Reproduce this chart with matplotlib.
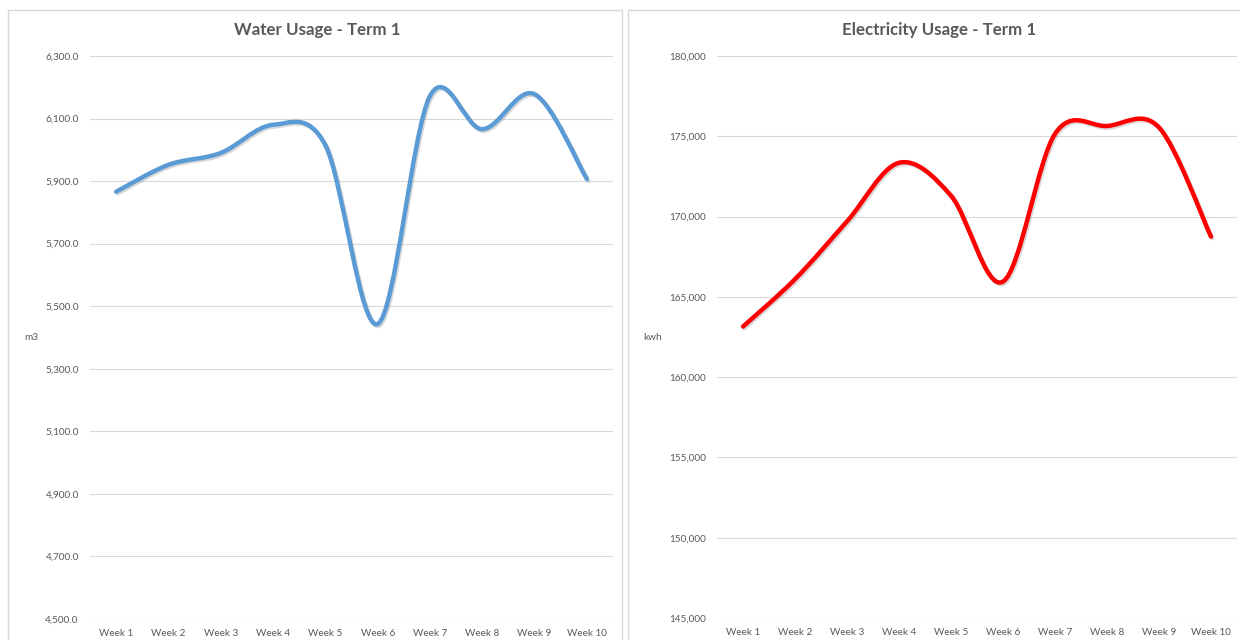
import matplotlib
matplotlib.use("Agg")
import matplotlib.pyplot as plt
import matplotlib.patheffects as pe
from matplotlib.path import Path
from matplotlib.patches import PathPatch, Rectangle
from matplotlib.ticker import FuncFormatter

weeks = ["Week 1", "Week 2", "Week 3", "Week 4", "Week 5",
         "Week 6", "Week 7", "Week 8", "Week 9", "Week 10"]
water = [5866, 5952, 5990, 6080, 6015, 5443, 6172, 6066, 6178, 5907]
electricity = [163150, 166100, 169700, 173350, 171300,
               165950, 175150, 175640, 175550, 168750]

water_ticks = [4500, 4700, 4900, 5100, 5300, 5500, 5700, 5900, 6100, 6300]
elec_ticks = [145000, 150000, 155000, 160000, 165000, 170000, 175000, 180000]

plt.rcParams['font.family'] = ['Lato', 'DejaVu Sans']
text_col = '#595959'
grid_col = '#D9D9D9'


def smooth_path(xs, ys):
    # Excel-style smoothed line: cubic bezier through every point
    verts = [(xs[0], ys[0])]
    codes = [Path.MOVETO]
    n = len(xs)
    for i in range(n - 1):
        x0, y0 = (xs[i - 1], ys[i - 1]) if i > 0 else (xs[i], ys[i])
        x3, y3 = (xs[i + 2], ys[i + 2]) if i + 2 < n else (xs[i + 1], ys[i + 1])
        c1 = (xs[i] + (xs[i + 1] - x0) / 6, ys[i] + (ys[i + 1] - y0) / 6)
        c2 = (xs[i + 1] - (x3 - xs[i]) / 6, ys[i + 1] - (y3 - ys[i]) / 6)
        verts += [c1, c2, (xs[i + 1], ys[i + 1])]
        codes += [Path.CURVE4] * 3
    return Path(verts, codes)


def setup(ax, title, title_x, ticks, fmt, unit, unit_x):
    ax.set_xlim(-0.5, len(weeks) - 0.5)
    ax.set_ylim(ticks[0], ticks[-1])
    ax.set_yticks(ticks)
    ax.yaxis.set_major_formatter(FuncFormatter(fmt))
    ax.set_xticks(range(len(weeks)))
    ax.set_xticklabels(weeks)
    ax.tick_params(axis='both', length=0, labelsize=7.2, colors=text_col)
    ax.tick_params(axis='y', pad=8)
    ax.tick_params(axis='x', pad=7)
    ax.grid(axis='y', color=grid_col, lw=0.8)
    ax.set_axisbelow(True)
    for s in ax.spines.values():
        s.set_visible(False)
    fig.text(title_x, 1 - 30 / 640, title, fontsize=12.2, fontweight='bold',
             color=text_col, ha='center', va='center')
    fig.text(unit_x, 1 - 338 / 640, unit, fontsize=7.2, color=text_col,
             ha='left', va='center')


fig = plt.figure(figsize=(12.4, 6.4), dpi=100)

# chart frames
fig.patches.append(Rectangle((8 / 1240, -0.01), 614 / 1240, 1 - 10 / 640 + 0.01,
                             transform=fig.transFigure, fill=False,
                             ec=grid_col, lw=1))
fig.patches.append(Rectangle((628 / 1240, -0.01), 620 / 1240, 1 - 10 / 640 + 0.01,
                             transform=fig.transFigure, fill=False,
                             ec=grid_col, lw=1))

ax1 = fig.add_axes([90 / 1240, 1 - 619 / 640, 523 / 1240, 563 / 640])
ax2 = fig.add_axes([717 / 1240, 1 - 618 / 640, 520 / 1240, 562 / 640])

setup(ax1, "Water Usage - Term 1", 317 / 1240, water_ticks,
      lambda v, p: f"{v:,.1f}", "m3", 24 / 1240)
setup(ax2, "Electricity Usage - Term 1", 939 / 1240, elec_ticks,
      lambda v, p: f"{v:,.0f}", "kwh", 643 / 1240)

shadow = [pe.SimpleLineShadow(offset=(1, -1.2), shadow_color='#7f7f7f', alpha=0.3),
          pe.Normal()]
xs = list(range(len(weeks)))
ax1.add_patch(PathPatch(smooth_path(xs, water), fill=False,
                        ec='#5B9BD5', lw=3.2, capstyle='round', joinstyle='round',
                        path_effects=shadow))
ax2.add_patch(PathPatch(smooth_path(xs, electricity), fill=False,
                        ec='#FF0000', lw=3.2, capstyle='round', joinstyle='round',
                        path_effects=shadow))

fig.savefig("out.png", dpi=100, facecolor='white')
